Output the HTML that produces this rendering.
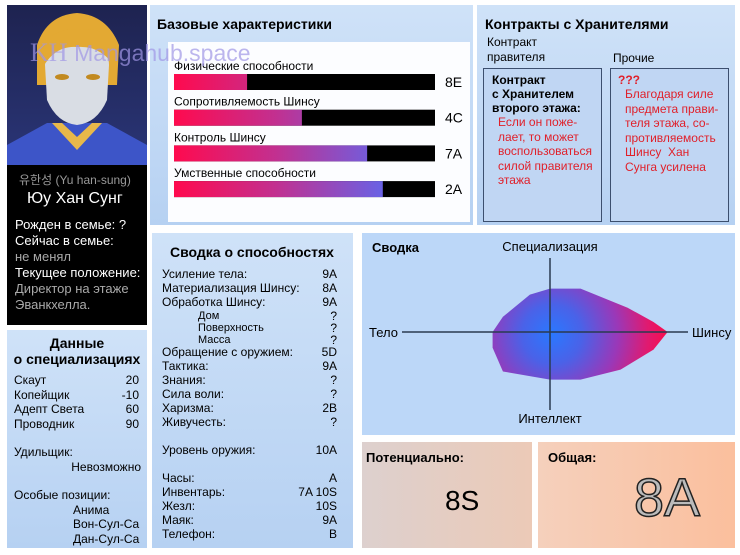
<!DOCTYPE html>
<html><head><meta charset="utf-8">
<style>
body{margin:0;width:740px;height:555px;background:#fff;position:relative;overflow:hidden;font-family:"Liberation Sans","Noto Sans CJK KR",sans-serif;}
.a{position:absolute;white-space:nowrap;}
.panel{position:absolute;background:linear-gradient(180deg,#cfe2f8,#b6d1f2);}
.t{position:absolute;font-size:12px;color:#000;white-space:nowrap;line-height:14px;}
.r{position:absolute;font-size:12px;white-space:nowrap;text-align:right;line-height:14px;}
.b{font-weight:bold;}
</style></head><body>

<div class="a" style="left:7px;top:5px;width:140px;height:320px;background:#000;">
<svg width="140" height="160" style="position:absolute;left:0;top:0">
<defs><linearGradient id="bgp" x1="0" y1="0" x2="0" y2="1"><stop offset="0" stop-color="#1e2350"/><stop offset="1" stop-color="#2a3577"/></linearGradient></defs>
<rect width="140" height="160" fill="url(#bgp)"/>
<path d="M0 140 L40 118 L100 118 L140 140 L140 160 L0 160Z" fill="#3d55c8"/>
<path d="M45 118 L70 145 L95 118 L85 118 L70 132 L55 118Z" fill="#e8b84a"/>
<path d="M30 40 Q40 10 70 8 Q100 10 112 40 L110 80 L30 80Z" fill="#e3a933"/>
<path d="M38 60 Q38 40 70 38 Q102 40 102 60 L100 95 Q90 118 70 120 Q50 118 40 95Z" fill="#d9dde4"/>
<path d="M30 45 Q50 20 75 25 Q95 20 110 45 L110 65 Q95 40 70 42 Q45 40 32 70Z" fill="#e3a933"/>
<ellipse cx="55" cy="72" rx="7" ry="3" fill="#c28a20"/><ellipse cx="86" cy="72" rx="7" ry="3" fill="#c28a20"/>
</svg>
<div class="a" style="left:12px;top:166px;font-size:12px;color:#999;">유한성 (Yu han-sung)</div>
<div class="a" style="left:20px;top:185px;font-size:16px;color:#fff;">Юу Хан Сунг</div>
<div class="a" style="left:8px;top:212px;font-size:13px;line-height:16px;color:#fff;">Рожден в семье: ?<br>Сейчас в семье:<br><span style="color:#aaa">не менял</span><br>Текущее положение:<br><span style="color:#aaa">Директор на этаже<br>Эванкхелла.</span></div>
</div>

<div class="panel" style="left:150px;top:5px;width:323px;height:220px;">
<div class="a b" style="left:7px;top:11px;font-size:14px;">Базовые характеристики</div>
<div class="a" style="left:18px;top:37px;width:302px;height:180px;background:#fcfdff;"></div>
</div>
<svg id="bars" width="740" height="230" style="position:absolute;left:0;top:0">
<defs><linearGradient id="bg" gradientUnits="userSpaceOnUse" x1="174" y1="0" x2="400" y2="0"><stop offset="0" stop-color="#ff0a4e"/><stop offset="0.45" stop-color="#c23090"/><stop offset="1" stop-color="#5b6af2"/></linearGradient></defs>
</svg>
<div class="a" style="left:30px;top:38px;font-size:26px;color:rgba(160,150,230,0.7);font-family:'Liberation Serif',serif;z-index:5;">KH <span style="font-family:'Liberation Sans',sans-serif;font-size:23px">Mangahub.space</span></div>

<div class="panel" style="left:477px;top:5px;width:258px;height:220px;">
<div class="a b" style="left:8px;top:11px;font-size:14px;">Контракты с Хранителями</div>
<div class="a" style="left:10px;top:30px;font-size:12px;line-height:15px;">Контракт<br>правителя</div>
<div class="a" style="left:136px;top:46px;font-size:12px;">Прочие</div>
<div class="a" style="left:6px;top:63px;width:117px;height:152px;border:1px solid #3c4f6e;background:#c0d6f3;">
<div class="a" style="left:8px;top:4px;font-size:12px;line-height:14px;font-weight:bold;">Контракт<br>с Хранителем<br>второго этажа:</div>
<div class="a" style="left:14px;top:46px;font-size:12px;line-height:14.5px;color:#e0202a;">Если он поже-<br>лает, то может<br>воспользоваться<br>силой правителя<br>этажа</div></div>
<div class="a" style="left:133px;top:63px;width:117px;height:152px;border:1px solid #3c4f6e;background:#c0d6f3;">
<div class="a b" style="left:7px;top:4px;font-size:12px;color:#e0202a;">???</div>
<div class="a" style="left:14px;top:18px;font-size:12px;line-height:14.5px;color:#e0202a;">Благодаря силе<br>предмета прави-<br>теля этажа, со-<br>противляемость<br>Шинсу&nbsp; Хан<br>Сунга усилена</div></div>
</div>

<div class="panel" style="left:7px;top:330px;width:140px;height:218px;">
<div class="a b" style="left:0;top:5px;width:140px;text-align:center;font-size:14px;line-height:16px;">Данные<br>о специализациях</div>
<div class="t" style="left:7px;top:43px">Скаут</div><div class="r" style="right:8px;top:43px">20</div>
<div class="t" style="left:7px;top:58px">Копейщик</div><div class="r" style="right:8px;top:58px">-10</div>
<div class="t" style="left:7px;top:72px">Адепт Света</div><div class="r" style="right:8px;top:72px">60</div>
<div class="t" style="left:7px;top:87px">Проводник</div><div class="r" style="right:8px;top:87px">90</div>
<div class="t" style="left:7px;top:115px">Удильщик:</div><div class="r" style="right:6px;top:130px">Невозможно</div>
<div class="t" style="left:7px;top:158px">Особые позиции:</div>
<div class="t" style="left:66px;top:173px">Анима</div>
<div class="t" style="left:66px;top:187px">Вон-Сул-Са</div>
<div class="t" style="left:66px;top:202px">Дан-Сул-Са</div>
</div>

<div class="panel" style="left:152px;top:233px;width:201px;height:315px;">
<div class="a b" style="left:18px;top:11px;font-size:14px;">Сводка о способностях</div>
<div id="ab"></div>
</div>

<div class="panel" style="left:362px;top:233px;width:373px;height:202px;background:#bcd7f8;"></div>
<svg id="radar" width="740" height="555" style="position:absolute;left:0;top:0">
<defs><radialGradient id="rg" gradientUnits="userSpaceOnUse" cx="552" cy="334" r="120"><stop offset="0" stop-color="#2a78ff"/><stop offset="0.25" stop-color="#4a62e8"/><stop offset="0.55" stop-color="#9a38b8"/><stop offset="0.8" stop-color="#e01a70"/><stop offset="1" stop-color="#ff0a45"/></radialGradient></defs>
<text x="372" y="252" font-size="13" font-weight="bold" font-family="Liberation Sans">Сводка</text>
</svg>

<div class="a" style="left:362px;top:442px;width:170px;height:106px;background:linear-gradient(90deg,#ddd0ce,#eccab7);">
<div class="a b" style="left:4px;top:8px;font-size:13px;">Потенциально:</div>
<div class="a" style="left:83px;top:43px;font-size:28px;">8S</div></div>
<div class="a" style="left:538px;top:442px;width:197px;height:106px;background:linear-gradient(90deg,#f5d0bc,#fbbf9d);">
<div class="a b" style="left:10px;top:8px;font-size:13px;">Общая:</div>
<div class="a" style="left:96px;top:25px;font-size:54px;color:#bbb;-webkit-text-stroke:1.5px #222;">8A</div></div>

<script>
const statNames=["Физические способности","Сопротивляемость Шинсу","Контроль Шинсу","Умственные способности"];
const statFill=[0.28,0.49,0.74,0.80];
const statGrade=["8E","4C","7A","2A"];
const NS="http://www.w3.org/2000/svg";
const bs=document.getElementById('bars');
const bx=174,bw=261;
function xs(v){return bx+v*bw;}
statNames.forEach((n,i)=>{
 const y=74+i*35.7;
 const t=document.createElementNS(NS,'text');t.setAttribute('x',174);t.setAttribute('y',y-4);t.setAttribute('font-size','12');t.setAttribute('font-family','Liberation Sans');t.textContent=n;
 
 
 bs.appendChild(t);
 const bk=document.createElementNS(NS,'rect');bk.setAttribute('x',bx);bk.setAttribute('y',y);bk.setAttribute('width',bw);bk.setAttribute('height',16);bk.setAttribute('fill','#000');
 
 
 bs.appendChild(bk);
 const f=document.createElementNS(NS,'rect');f.setAttribute('x',bx);f.setAttribute('y',y);f.setAttribute('width',xs(statFill[i])-bx);f.setAttribute('height',16);f.setAttribute('fill','url(#bg)');
 
 
 bs.appendChild(f);
 const g=document.createElementNS(NS,'text');g.setAttribute('x',445);g.setAttribute('y',y+13);g.setAttribute('font-size','14');g.setAttribute('font-family','Liberation Sans');g.textContent=statGrade[i];
 
 
 bs.appendChild(g);
});

const abLabels=["Усиление тела:","Материализация Шинсу:","Обработка Шинсу:","Дом","Поверхность","Масса","Обращение с оружием:","Тактика:","Знания:","Сила воли:","Харизма:","Живучесть:","","Уровень оружия:","","Часы:","Инвентарь:","Жезл:","Маяк:","Телефон:"];
const abValues=["9A","8A","9A","?","?","?","5D","9A","?","?","2B","?","","10A","","A","7A 10S","10S","9A","B"];
const ab=document.getElementById('ab');
let yy=34;
abLabels.forEach((l,i)=>{
 const sub=(i>=3&&i<=5);
 const h=sub?12:14;
 if(l){
 const d=document.createElement('div');d.className='t';d.style.left=(sub?46:10)+'px';d.style.top=yy+'px';d.style.fontSize=sub?'11px':'12px';d.textContent=l;
 
 
 ab.appendChild(d);
 const v=document.createElement('div');v.className='r';v.style.right='16px';v.style.top=yy+'px';v.textContent=abValues[i];
 
 
 ab.appendChild(v);}
 yy+=h;
});

const axisNames=["Специализация","Шинсу","Интеллект","Тело"];
const axisValues=[3.1,8.4,3.4,4.1];
const cx=550,cy=332,unit=14;
function r(v){return v*unit;}
const rd=document.getElementById('radar');
function line(x1,y1,x2,y2,name){const l=document.createElementNS(NS,'line');l.setAttribute('x1',x1);l.setAttribute('y1',y1);l.setAttribute('x2',x2);l.setAttribute('y2',y2);l.setAttribute('stroke','#2a3a50');l.setAttribute('stroke-width','1.5');
 
 
 rd.appendChild(l);}
const u=r(axisValues[0]),R=r(axisValues[1]),d=r(axisValues[2]),L=r(axisValues[3]);
const pts=[[-L,0],[-0.82*L,-0.35*u],[-0.35*L,-0.86*u],[0,-u],[0.26*R,-u],[0.66*R,-0.56*u],[0.88*R,-0.23*u],[R,0],[0.88*R,0.37*d],[0.6*R,0.79*d],[0.26*R,d],[0,d],[-0.82*L,0.83*d],[-L,0.33*d]];
const p=document.createElementNS(NS,'polygon');
p.setAttribute('points',pts.map(q=>(cx+q[0])+','+(cy+q[1])).join(' '));
p.setAttribute('fill','url(#rg)');


rd.appendChild(p);
line(402,cy,688,cy,'horizontal-axis');
line(cx,258,cx,410,'vertical-axis');
const lab=[[cx,251,'middle'],[692,337,'start'],[cx,423,'middle'],[398,337,'end']];
axisNames.forEach((n,i)=>{const t=document.createElementNS(NS,'text');t.setAttribute('x',lab[i][0]);t.setAttribute('y',lab[i][1]);t.setAttribute('text-anchor',lab[i][2]);t.setAttribute('font-size','13');t.setAttribute('font-family','Liberation Sans');t.textContent=n;
 
 
 rd.appendChild(t);});
</script>
</body></html>
